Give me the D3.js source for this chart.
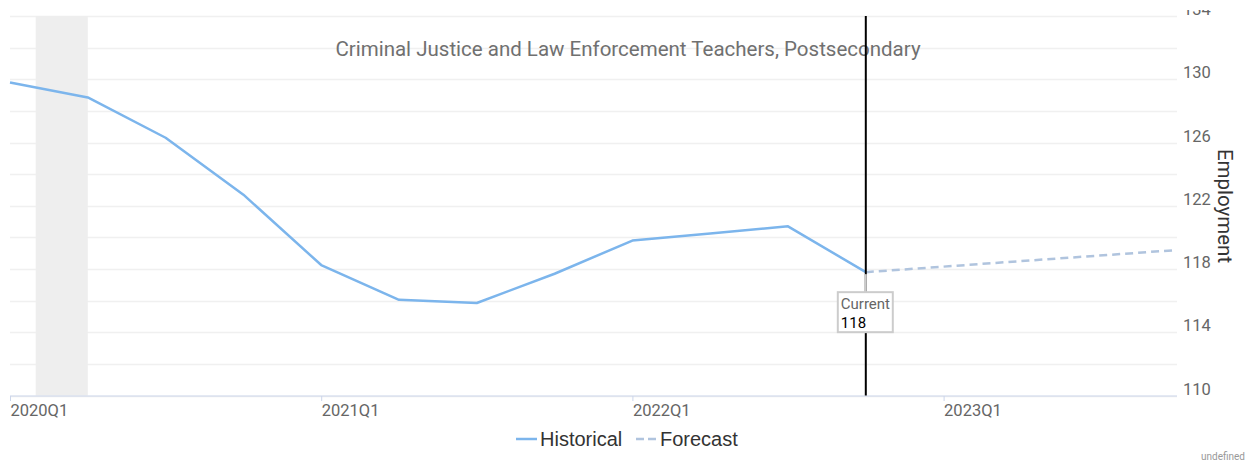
<!DOCTYPE html>
<html>
<head>
<meta charset="utf-8">
<script src="https://cdn.jsdelivr.net/npm/d3@7"></script>
<style>
  body { margin: 0; background: #fff; }
  svg { display: block; font-family: Roboto, "Liberation Sans", sans-serif; }
</style>
</head>
<body>
<div id="chart"></div>
<script>
// Data
const quarters = ["2020Q1","2020Q2","2020Q3","2020Q4","2021Q1","2021Q2","2021Q3","2021Q4",
                  "2022Q1","2022Q2","2022Q3","2022Q4","2023Q1","2023Q2","2023Q3","2023Q4"];
const historical = [129.8, 128.85, 126.3, 122.7, 118.25, 116.05, 115.85, 117.7,
                    119.8, 120.25, 120.7, 117.8];
const forecast = [117.8, 118.15, 118.5, 118.85, 119.2];   // starts at 2022Q4
const forecastStart = 11;
const currentIndex = 11;
const currentValue = 118;
const recession = [0.33, 1.0];   // in quarters from 2020Q1
const yTicks = [110, 114, 118, 122, 126, 130, 134];
const xTickLabels = ["2020Q1", "2021Q1", "2022Q1", "2023Q1"];

const title = "Criminal Justice and Law Enforcement Teachers, Postsecondary";

// SVG Variables
let svgWidth = 1253;
let svgHeight = 465;
let plot = { left: 10, right: 1177, top: 16, bottom: 395.5 };

let svg = d3.select("#chart").append("svg")
    .attr("width", svgWidth)
    .attr("height", svgHeight);

let x = d3.scaleLinear().domain([0, quarters.length - 1]).range([plot.left, plot.right]);
let y = d3.scaleLinear().domain([110, 134]).range([plot.bottom, plot.top]);

// gridlines every 2
svg.append("g").selectAll("line")
    .data(d3.range(110, 135, 2))
    .enter().append("line")
    .attr("x1", plot.left).attr("x2", plot.right)
    .attr("y1", d => Math.round(y(d)) + 0.5).attr("y2", d => Math.round(y(d)) + 0.5)
    .attr("stroke", "#f0f0f0").attr("stroke-width", 1.5);

// recession band
svg.append("rect")
    .attr("x", x(recession[0])).attr("width", x(recession[1]) - x(recession[0]))
    .attr("y", plot.top).attr("height", plot.bottom - plot.top)
    .attr("fill", "#eeeeee");

// title
svg.append("text")
    .attr("x", 628).attr("y", 56)
    .attr("text-anchor", "middle")
    .attr("font-size", 20.5).attr("fill", "#707070")
    .text(title);

// x axis
let xAxis = d3.axisBottom(x)
    .tickValues(xTickLabels.map(t => quarters.indexOf(t)))
    .tickFormat(d => quarters[d])
    .tickSize(5);
let gx = svg.append("g")
    .attr("transform", `translate(0, ${plot.bottom + 0.5})`)
    .call(xAxis);
gx.select(".domain").attr("stroke", "#ccd6eb").attr("d", `M${plot.left},0H${plot.right}`);
gx.selectAll(".tick line").attr("stroke", "#ccd6eb");
gx.selectAll(".tick text")
    .attr("text-anchor", "start").attr("dy", 0).attr("y", 20)
    .attr("font-size", 16.5).attr("fill", "#666")
    .attr("font-family", "Roboto");

// y axis (top label is cut off in the original)
svg.append("clipPath").attr("id", "yclip")
    .append("rect").attr("x", plot.right).attr("y", 10).attr("width", 80).attr("height", 420);
let yAxis = d3.axisRight(y).tickValues(yTicks).tickSize(0).tickPadding(6);
let gy = svg.append("g")
    .attr("clip-path", "url(#yclip)")
    .append("g")
    .attr("transform", `translate(${plot.right}, 0)`)
    .call(yAxis);
gy.select(".domain").remove();
gy.selectAll(".tick text")
    .attr("dy", 0).attr("y", -1.5)
    .attr("font-size", 16.5).attr("fill", "#666")
    .attr("font-family", "Roboto");

svg.append("text")
    .attr("transform", `translate(1218, 206) rotate(90)`)
    .attr("text-anchor", "middle")
    .attr("font-size", 20.5).attr("fill", "#333")
    .text("Employment");

// lines
let line = d3.line().x(d => x(d[0])).y(d => y(d[1]));

svg.append("path")
    .datum(historical.map((v, i) => [i, v]))
    .attr("d", line)
    .attr("fill", "none").attr("stroke", "#7cb5ec").attr("stroke-width", 2.5)
    .attr("stroke-linejoin", "round");

svg.append("path")
    .datum(forecast.map((v, i) => [forecastStart + i, v]))
    .attr("d", line)
    .attr("fill", "none").attr("stroke", "#b0c4de").attr("stroke-width", 2.5)
    .attr("stroke-dasharray", "8,5");

// current marker line
svg.append("line")
    .attr("x1", x(currentIndex)).attr("x2", x(currentIndex))
    .attr("y1", plot.top).attr("y2", plot.bottom)
    .attr("stroke", "#000").attr("stroke-width", 2);

// current label
let cx = x(currentIndex), cy = y(historical[currentIndex]);
svg.append("line")
    .attr("x1", cx).attr("x2", cx).attr("y1", cy + 2).attr("y2", cy + 20)
    .attr("stroke", "#ccc").attr("stroke-width", 2);
svg.append("rect")
    .attr("x", cx - 28).attr("y", cy + 20).attr("width", 55).attr("height", 40)
    .attr("fill", "#fff").attr("stroke", "#ccc").attr("stroke-width", 2);
svg.append("text")
    .attr("x", cx - 25).attr("y", cy + 37)
    .attr("font-size", 15).attr("fill", "#666").text("Current");
svg.append("text")
    .attr("x", cx - 25).attr("y", cy + 56)
    .attr("font-size", 15).attr("fill", "#000").text(currentValue);

// legend
let legend = svg.append("g").attr("font-family", "Liberation Sans, Arial, sans-serif");
legend.append("line")
    .attr("x1", 516).attr("x2", 537).attr("y1", 439).attr("y2", 439)
    .attr("stroke", "#7cb5ec").attr("stroke-width", 2.5);
legend.append("text").attr("x", 540).attr("y", 446)
    .attr("font-size", 20).attr("fill", "#333").text("Historical");
legend.append("line")
    .attr("x1", 636).attr("x2", 657).attr("y1", 439).attr("y2", 439)
    .attr("stroke", "#b0c4de").attr("stroke-width", 2.5).attr("stroke-dasharray", "8,4");
legend.append("text").attr("x", 660).attr("y", 446)
    .attr("font-size", 20).attr("fill", "#333").text("Forecast");

// credits
svg.append("text")
    .attr("x", 1245).attr("y", 460)
    .attr("text-anchor", "end")
    .attr("font-size", 10).attr("fill", "#999")
    .text("undefined");
</script>
</body>
</html>
